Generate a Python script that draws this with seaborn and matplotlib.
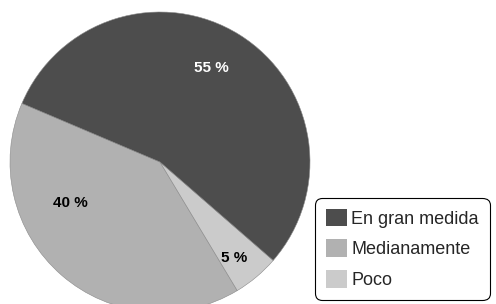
import matplotlib
matplotlib.use("Agg")
import matplotlib.pyplot as plt
import seaborn as sns

# data, in drawing order (counter-clockwise from the start angle)
categories = ["Medianamente", "Poco", "En gran medida"]
shares = [40, 5, 55]
legend_order = ["En gran medida", "Medianamente", "Poco"]

colors = {"En gran medida": "#4d4d4d", "Medianamente": "#b1b1b1", "Poco": "#cbcbcb"}
text_colors = {"En gran medida": "white", "Medianamente": "black", "Poco": "black"}


def main():
    sns.set_theme(style="white")
    plt.rcParams["font.family"] = ["Liberation Sans", "DejaVu Sans"]

    fig = plt.figure(figsize=(4.96, 3.04), dpi=100)
    ax = fig.add_axes([0, 0, 1, 1])

    wedges, _ = ax.pie(shares, colors=[colors[c] for c in categories],
                       startangle=157, counterclock=True, radius=1.0,
                       wedgeprops=dict(edgecolor="#8a8a8a", linewidth=0.4))

    # label spots (Excel-style placement, not exactly on mid-angle)
    label_pos = {"En gran medida": (0.34, 0.63),
                 "Medianamente": (-0.60, -0.275),
                 "Poco": (0.495, -0.64)}
    for cat, val in zip(categories, shares):
        x, y = label_pos[cat]
        ax.text(x, y, f"{val} %", ha="center", va="center", fontsize=11,
                fontweight="bold", color=text_colors[cat])

    # 150 px per unit, pie centre at (160, 162) px
    ax.set_xlim(-160 / 150, (496 - 160) / 150)
    ax.set_ylim(-(304 - 162) / 150, 162 / 150)
    ax.set_aspect("auto")
    ax.axis("off")

    handles = [wedges[categories.index(c)] for c in legend_order]
    leg = ax.legend(handles, legend_order, loc="lower right",
                    bbox_to_anchor=(0.987, 0.013), bbox_transform=fig.transFigure,
                    borderaxespad=0, fontsize=13, frameon=True, fancybox=True,
                    handlelength=1.15, handleheight=1.15, handletextpad=0.25,
                    labelspacing=0.65, borderpad=0.6)
    frame = leg.get_frame()
    frame.set_boxstyle("round", pad=0, rounding_size=0.4)
    frame.set_edgecolor("black")
    frame.set_linewidth(0.8)
    frame.set_alpha(1)
    for h in leg.legend_handles:
        h.set_edgecolor("none")

    fig.savefig("out.png", dpi=100)
    plt.close(fig)


if __name__ == "__main__":
    main()
